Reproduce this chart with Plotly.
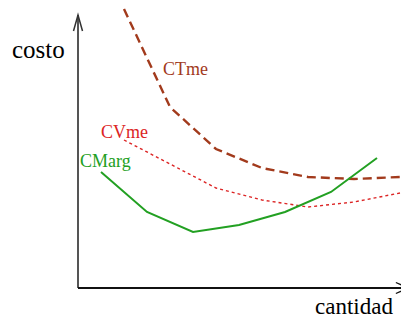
import plotly.graph_objects as go

# quantities (CTme / CVme at whole units, CMarg at midpoints)
q_avg = [1, 2, 3, 4, 5, 6, 7]
ctme = [27.9, 18.1, 13.9, 12.0, 11.1, 10.9, 11.1]
cvme = [14.8, 12.4, 10.0, 8.8, 8.1, 8.6, 9.5]
q_marg = [0.5, 1.5, 2.5, 3.5, 4.5, 5.5, 6.5]
cmarg = [11.6, 7.6, 5.6, 6.3, 7.6, 9.6, 13.0]

FONT = "Liberation Serif, Times New Roman, serif"
C_CT = "#a23a1c"
C_CV = "#dc2424"
C_CM = "#22a022"

fig = go.Figure()
fig.add_trace(go.Scatter(x=q_avg, y=cvme, mode="lines",
                         line=dict(color=C_CV, width=1.4, dash="3px,3px")))
fig.add_trace(go.Scatter(x=q_avg, y=ctme, mode="lines",
                         line=dict(color=C_CT, width=2.4, dash="9px,5px")))
fig.add_trace(go.Scatter(x=q_marg, y=cmarg, mode="lines",
                         line=dict(color=C_CM, width=2)))

# axes with open arrowheads
x_end, y_end = 7.174, 27.3
shapes = [
    dict(type="line", x0=0, y0=0, x1=0, y1=y_end, line=dict(color="#555555", width=2)),
    dict(type="path", path=f"M -0.098,25.7 L 0,{y_end} L 0.098,25.7",
         line=dict(color="#333333", width=1.5)),
    dict(type="line", x0=0, y0=0, x1=x_end, y1=0, line=dict(color="#111111", width=1.8)),
    dict(type="path", path=f"M 6.91,0.55 L {x_end},0 L 6.91,-0.55",
         line=dict(color="#111111", width=1.3)),
]

annotations = [
    dict(x=-0.86, y=23.9, text="costo", showarrow=False,
         font=dict(family=FONT, size=25, color="black")),
    dict(x=6.0, y=-1.85, text="cantidad", showarrow=False,
         font=dict(family=FONT, size=23, color="black")),
    dict(x=2.326, y=21.9, text="CTme", showarrow=False,
         font=dict(family=FONT, size=18, color=C_CT)),
    dict(x=1.02, y=15.6, text="CVme", showarrow=False,
         font=dict(family=FONT, size=18, color=C_CV)),
    dict(x=0.598, y=12.7, text="CMarg", showarrow=False,
         font=dict(family=FONT, size=18, color=C_CM)),
]

# page has an 8px body margin: the figure occupies page px 8..409 x 8..319
fig.update_layout(
    width=401, height=311,
    margin=dict(l=0, r=0, t=0, b=0),
    paper_bgcolor="white", plot_bgcolor="white",
    showlegend=False,
    xaxis=dict(range=[-70/46, 331/46], visible=False, fixedrange=True),
    yaxis=dict(range=[-3.1, 28.0], visible=False, fixedrange=True),
    shapes=shapes, annotations=annotations,
)

fig.write_html("out.html", config={"displayModeBar": False})
